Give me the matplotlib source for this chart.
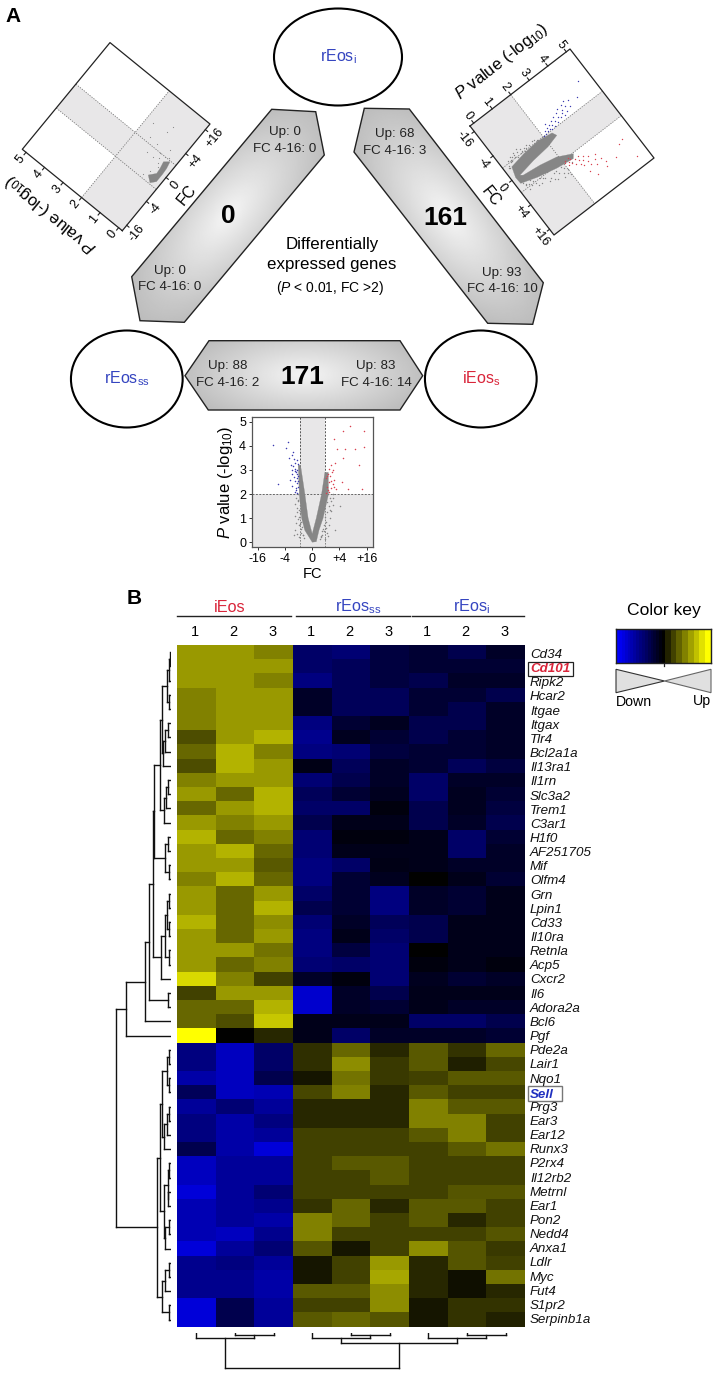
import numpy as np
import matplotlib
matplotlib.use("Agg")
import matplotlib.pyplot as plt
from matplotlib.colors import LinearSegmentedColormap
from matplotlib.patches import Ellipse, Polygon, Rectangle
from matplotlib.transforms import Affine2D

plt.rcParams['font.family'] = ['Liberation Sans', 'DejaVu Sans']
plt.rcParams['mathtext.fontset'] = 'custom'
plt.rcParams['mathtext.rm'] = 'Liberation Sans'
plt.rcParams['mathtext.it'] = 'Liberation Sans:italic'
plt.rcParams['mathtext.bf'] = 'Liberation Sans:bold'
plt.rcParams['mathtext.default'] = 'regular'

W, H = 721, 1376
BLUE_TXT = '#3545c0'
RED_TXT = '#d9253a'
GREY_BG = '#e8e7e8'
GREY_DOT = '#868686'

# heatmap
genes = ['Cd34', 'Cd101', 'Ripk2', 'Hcar2', 'Itgae', 'Itgax', 'Tlr4', 'Bcl2a1a', 'Il13ra1', 'Il1rn',
         'Slc3a2', 'Trem1', 'C3ar1', 'H1f0', 'AF251705', 'Mif', 'Olfm4', 'Grn', 'Lpin1', 'Cd33',
         'Il10ra', 'Retnla', 'Acp5', 'Cxcr2', 'Il6', 'Adora2a', 'Bcl6', 'Pgf', 'Pde2a', 'Lair1',
         'Nqo1', 'Sell', 'Prg3', 'Ear3', 'Ear12', 'Runx3', 'P2rx4', 'Il12rb2', 'Metrnl', 'Ear1',
         'Pon2', 'Nedd4', 'Anxa1', 'Ldlr', 'Myc', 'Fut4', 'S1pr2', 'Serpinb1a']
heat_ieos = [[.6, .6, .5], [.6, .6, .6], [.6, .6, .5], [.5, .6, .6], [.5, .6, .6], [.5, .6, .6],
             [.3, .6, .7], [.4, .7, .5], [.3, .7, .6], [.5, .6, .6], [.6, .4, .7], [.4, .6, .7],
             [.6, .5, .6], [.7, .4, .5], [.6, .7, .4], [.6, .6, .35], [.5, .7, .4], [.6, .4, .6],
             [.6, .4, .7], [.7, .4, .55], [.6, .4, .6], [.6, .6, .45], [.6, .4, .5], [.85, .5, .25],
             [.25, .6, .6], [.4, .4, .7], [.4, .3, .78], [1, 0, .15],
             [-.5, -.75, -.4], [-.5, -.75, -.4], [-.65, -.75, -.3], [-.35, -.75, -.7], [-.6, -.45, -.6],
             [-.5, -.65, -.5], [-.5, -.65, -.6], [-.3, -.65, -.85], [-.75, -.6, -.6], [-.75, -.6, -.6],
             [-.85, -.6, -.45], [-.7, -.6, -.55], [-.7, -.6, -.65], [-.7, -.75, -.55], [-.85, -.6, -.45],
             [-.55, -.5, -.6], [-.55, -.55, -.65], [-.55, -.55, -.65], [-.85, -.3, -.6], [-.85, -.3, -.6]]
heat_ss = [[-.4, -.45, -.25], [-.4, -.35, -.25], [-.5, -.35, -.25], [-.15, -.35, -.35], [-.15, -.35, -.35],
           [-.5, -.2, -.12], [-.55, -.12, -.2], [-.5, -.45, -.25], [-.08, -.35, -.15], [-.45, -.3, -.15],
           [-.35, -.2, -.12], [-.4, -.4, -.05], [-.3, -.1, -.1], [-.45, -.05, -.05], [-.45, -.1, -.1],
           [-.5, -.4, -.08], [-.5, -.2, -.12], [-.4, -.2, -.5], [-.3, -.2, -.5], [-.45, -.15, -.35],
           [-.5, -.1, -.4], [-.5, -.25, -.45], [-.45, -.4, -.45], [-.15, -.05, -.45], [-.8, -.15, -.3],
           [-.8, -.15, -.2], [-.1, -.1, -.1], [-.1, -.4, -.15],
           [.18, .4, .15], [.18, .55, .22], [.08, .45, .22], [.28, .5, .15], [.15, .15, .15], [.15, .15, .15],
           [.25, .25, .25], [.25, .25, .25], [.25, .35, .35], [.25, .25, .35], [.25, .25, .25], [.2, .4, .15],
           [.5, .4, .25], [.5, .25, .25], [.33, .08, .25], [.08, .25, .6], [.08, .25, .65], [.35, .35, .55],
           [.25, .25, .55], [.35, .4, .33]]
heat_i = [[-.2, -.3, -.15], [-.2, -.2, -.2], [-.3, -.15, -.15], [-.2, -.2, -.3], [-.2, -.3, -.15],
          [-.3, -.3, -.15], [-.3, -.2, -.15], [-.2, -.2, -.15], [-.2, -.35, -.25], [-.4, -.15, -.15],
          [-.4, -.12, -.2], [-.3, -.12, -.25], [-.3, -.15, -.3], [-.1, -.4, -.2], [-.1, -.4, -.15],
          [-.1, -.15, -.15], [0, -.1, -.2], [-.15, -.2, -.1], [-.15, -.2, -.1], [-.3, -.1, -.1],
          [-.3, -.1, -.1], [0, -.1, -.1], [-.05, -.1, -.05], [-.12, -.2, -.15], [-.1, -.1, -.1],
          [-.1, -.15, -.15], [-.4, -.4, -.3], [-.15, -.15, -.2],
          [.35, .2, .4], [.35, .12, .28], [.25, .35, .35], [.35, .25, .25], [.5, .35, .35], [.5, .5, .25],
          [.35, .5, .25], [.25, .35, .45], [.25, .25, .25], [.25, .25, .25], [.25, .33, .33], [.35, .35, .25],
          [.35, .15, .25], [.25, .25, .33], [.55, .33, .22], [.15, .33, .25], [.15, .06, .45], [.15, .06, .15],
          [.08, .2, .2], [.08, .2, .13]]
column_numbers = ['1', '2', '3', '1', '2', '3', '1', '2', '3']
key_levels = [-1, -.94, -.88, -.81, -.75, -.69, -.63, -.56, -.5, -.44, -.38, -.31, -.25, -.19, -.13, -.06, 0,
              .13, .13, .25, .25, .38, .38, .5, .5, .63, .63, .75, .75, .88, .88, 1, 1]

# dendrograms: (height, child, child), a leaf is a row or column number
n01_4 = (3, (1, (.5, 0, 1), 2), (1, 3, 4))
n5_8 = (7, (5, (2, 5, 6), 7), 8)
n9_12 = (6, (4, (2, 9, 10), 11), 12)
n13_16 = (5, (2, 13, 14), (1.5, 15, 16))
n17_23 = (9.3, (5, (3, (1, 17, 18), (1, 19, 20)), (1, 21, 22)), 23)
top_tree = (44, (25, (20.7, (16.7, (15.7, (10, (8, n01_4, n5_8), n9_12), n13_16), n17_23), (1.7, 24, 25)), 26), 27)
n28_35 = (8.3, (3, (1, 28, 29), (1.5, 30, 31)), (6, (3, (1, 32, 33), 34), 35))
n36_42 = (6, (2.5, (1, 36, 37), (2, 38, 39)), (5, (1.5, 40, 41), 42))
n43_47 = (8, (5, (1.5, 43, 44), 45), (1.5, 46, 47))
bottom_tree = (13.3, (10, n28_35, n36_42), n43_47)
row_tree = (54, top_tree, bottom_tree)
col_tree = (35, (5, 0, (2.5, 1, 2)), (10.5, (5, 3, (2.5, 4, 5)), (5, 6, (2.5, 7, 8))))

# volcano plots, x is log2 FC, y is -log10 P
fc_ticks = [-4, -2, 0, 2, 4]
fc_labels = ['-16', '-4', '0', '+4', '+16']
p_ticks = [0, 1, 2, 3, 4, 5]

left_cloud_fc = [-.60, -.18, .21, .68, .95, .46, .01, -.6, -.92]
left_cloud_p = [.44, .21, .235, .30, .09, .02, 0, 0, .18]
left_grey_fc = [1.39, 2.84, 2.3, 2.19, 1.32, .5, .96, .52, .99, 1.53, -.73, .22, .7, 1.1, -.3, .4]
left_grey_p = [1.4, .92, .995, 1.65, 1.0, 1.11, .63, .76, .38, .4, .64, .33, .55, .2, .5, .45]

right_cloud_fc = [0, -.7, -.9, -1.0, -.85, -.54, -.3, -.17, .05, .18, .33, .57, 1.06, 1.31, 1.15, .85, .5]
right_cloud_p = [0, .15, .9, 1.7, 2.4, 2.5, 1.9, 1.05, .21, .32, 1.15, 1.93, 2.58, 2.45, 1.65, .75, .02]
right_grey_fc = [-1.0, -1.1, -1.2, -.95, -1.05, -1.1, -1.15, -1.2, -1.05, -.85, -1.25, -1.3, -1.12, -.98,
                 -1.35, -1.22, -1.18, -1.08, -.9, -.75, -1.28, -1.42, -1.15, -1.3, -1.2, -1.1, -.95, -.7,
                 .7, .9, 1.0, 1.2, 1.3, 1.5, 1.6, 1.1, .85, 1.4, .75, .95, 1.25, 1.45, 1.05, 1.7,
                 1.3, 1.55, 1.75, 1.85, 1.05, 1.35, 1.15, .6, .8, 1.65, 1.25, 1.9, 2.0, 1.45]
right_grey_p = [.3, .5, .4, .6, .85, 1.1, 1.3, 1.5, 1.7, .1, .7, .35, .9, 1.0,
                .55, 1.05, 1.6, 1.95, 1.85, .05, .9, .75, .2, 1.2, .55, .3, .25, .08,
                .4, .5, .8, 1.0, 1.4, 1.6, 2.0, .9, .3, 1.2, .2, 1.2, 1.8, 1.9, .35, 1.75,
                .75, 1.05, 1.4, 1.9, .55, .6, .2, .12, .15, 1.3, 1.55, 1.7, 1.95, 2.3]
right_blue_fc = [-1.05, -1.1, -1.2, -1.15, -1.3, -1.25, -1.4, -1.1, -1.35, -1.5, -1.2, -1.45, -1.6, -1.3, -1.7,
                 -1.5, -1.25, -1.65, -1.85, -1.4, -1.75, -1.95, -1.55, -1.9, -2.1, -1.72, -2.45, -1.05, -1.6, -1.0]
right_blue_p = [2.15, 2.3, 2.2, 2.45, 2.35, 2.6, 2.5, 2.7, 2.8, 2.7, 2.9, 3.0, 2.85, 3.1, 3.05,
                3.25, 3.3, 3.35, 3.2, 3.5, 3.55, 3.45, 3.7, 3.8, 3.6, 4.17, 4.64, 2.5, 2.4, 2.05]
right_red_fc = [1.1, 1.3, 1.2, 1.5, 1.4, 1.7, 1.6, 1.35, 1.9, 1.8, 1.55, 2.1, 2.0, 1.75, 2.3,
                2.2, 1.2, 1.05, 2.5, 2.6, 3.08, 2.7, 3.0, 2.2, 2.35, 3.66, 2.9, 1.9, 1.45, 2.4]
right_red_p = [2.1, 2.2, 2.35, 2.3, 2.5, 2.4, 2.6, 2.7, 2.55, 2.75, 2.85, 2.65, 2.9, 3.0, 2.9,
               3.15, 2.05, 2.3, 3.1, 2.7, 2.9, 3.5, 3.4, 4.6, 4.4, 4.68, 3.95, 3.3, 2.15, 3.4]

bottom_cloud_fc = [0, -.55, -.78, -.95, -1.03, -.86, -.54, -.3, 0, .3, .69, .93, 1.18, 1.2, .8, .5, .3]
bottom_cloud_p = [0, .5, 1.0, 2.0, 3.2, 3.2, 2.0, 1.0, .35, 1.0, 2.0, 2.9, 2.9, 2.0, 1.0, .5, .02]
bottom_grey_fc = [-1.3, -1.2, -1.1, -1.25, -1.15, -1.05, -1.35, -.95, -1.2, -1.3, -1.05,
                  1.1, 1.25, 1.3, 1.4, 1.5, 1.5, 1.67, 2.03, 1.15, 1.35, .95, 1.55,
                  -.85, -.9, -1.0, -1.08, -.95, -.8, -.7, -.75, -.98, -1.12, -.88, -.65, -.6, -.92, -1.02, -.82,
                  .85, .9, 1.0, 1.05, .95, .75, .7, .68, 1.2, 1.12, 1.28, .62, .55, 1.3, 1.08, .8]
bottom_grey_p = [.5, .8, .35, 1.1, 1.4, 1.7, .3, .2, 1.85, 1.6, 2.0,
                 .4, .7, 1.0, 1.3, 1.55, 1.85, .5, 1.52, .25, 1.7, .15, 2.0,
                 .55, .75, .7, .95, 1.05, .4, .3, .62, 1.35, 1.25, 1.2, .28, .18, 1.55, 1.75, .85,
                 .45, .7, .85, .6, 1.05, .3, .45, .2, 1.5, 1.25, 1.85, .25, .15, 1.35, 1.65, .55]
bottom_blue_fc = [-2.87, -1.76, -1.94, -2.5, -1.52, -1.4, -1.1, -1.2, -1.3, -1.05, -1.45, -1.15, -1.25, -1.6,
                  -1.35, -1.05, -1.5, -1.2, -1.1, -1.3, -1.4, -1.05, -1.25, -1.55, -1.15, -1.35, -1.7,
                  -1.1, -1.3, -1.2, -1.45, -1.05, -1.15]
bottom_blue_p = [4.04, 4.18, 3.9, 2.41, 3.63, 3.74, 2.05, 2.15, 2.1, 2.3, 2.35, 2.45, 2.55, 2.6,
                 2.7, 2.75, 2.85, 2.9, 3.0, 3.05, 3.15, 3.25, 3.3, 3.2, 3.4, 3.45, 3.5,
                 2.65, 2.95, 2.25, 3.0, 2.55, 2.85]
bottom_red_fc = [2.77, 2.28, 3.82, 1.59, 1.79, 2.4, 3.14, 3.82, 3.43, 2.28, 2.2, 3.63, 2.65,
                 1.05, 1.15, 1.25, 1.1, 1.35, 1.5, 1.2, 1.4, 1.05, 1.6, 1.3, 1.45, 1.15, 1.55, 1.7,
                 1.2, 1.35, 1.6, 1.75, 1.1]
bottom_red_p = [4.81, 4.6, 4.6, 4.28, 3.86, 3.86, 3.86, 3.95, 3.19, 3.49, 2.48, 2.2, 2.2,
                2.05, 2.15, 2.1, 2.3, 2.25, 2.4, 2.5, 2.55, 2.65, 2.3, 2.75, 2.9, 2.85, 3.0, 3.3,
                3.05, 3.2, 2.6, 2.2, 2.75]

fc_lim = (-4.45, 4.47)
p_lim = (-.2, 5.2)

fig = plt.figure(figsize=(W / 100, H / 100), dpi=100)


def px_axes(x0, y0, x1, y1, **kw):
    return fig.add_axes([x0 / W, 1 - y1 / H, (x1 - x0) / W, (y1 - y0) / H], **kw)


main = px_axes(0, 0, W, H)
main.set_xlim(0, W)
main.set_ylim(H, 0)
main.axis('off')


def gradient_shape(points, center, axis_angle, r_long, r_short):
    patch = Polygon(points, closed=True, facecolor='none', edgecolor='#222222', lw=1.0, zorder=3)
    main.add_patch(patch)
    xs = np.array([p[0] for p in points])
    ys = np.array([p[1] for p in points])
    x0, x1, y0, y1 = xs.min(), xs.max(), ys.min(), ys.max()
    gx, gy = np.meshgrid(np.linspace(x0, x1, 200), np.linspace(y0, y1, 200))
    a = np.radians(axis_angle)
    u = (gx - center[0]) * np.cos(a) + (gy - center[1]) * np.sin(a)
    v = -(gx - center[0]) * np.sin(a) + (gy - center[1]) * np.cos(a)
    d = np.clip(np.hypot(u / r_long, v / r_short), 0, 1)
    im = main.imshow(.96 - .22 * d, extent=(x0, x1, y1, y0), origin='upper', cmap='gray',
                     vmin=0, vmax=1, aspect='auto', zorder=2)
    im.set_clip_path(patch)


def label_lines(x, y, up, fc):
    main.text(x, y - 9, up, ha='center', va='center', fontsize=9.6, color='#222222', zorder=4)
    main.text(x, y + 7.5, fc, ha='center', va='center', fontsize=9.6, color='#222222', zorder=4)


def rotated_volcano(origin, fc_end, p_end, rotation, cloud, grey, blue=None, red=None, dot=1.0):
    # axis corners in pixels, data goes through an affine transform
    ox, oy = origin
    fx = (fc_end[0] - ox) / (fc_lim[1] - fc_lim[0])
    fy = (fc_end[1] - oy) / (fc_lim[1] - fc_lim[0])
    px = (p_end[0] - ox) / (p_lim[1] - p_lim[0])
    py = (p_end[1] - oy) / (p_lim[1] - p_lim[0])
    e = ox - fc_lim[0] * fx - p_lim[0] * px
    f = oy - fc_lim[0] * fy - p_lim[0] * py
    tr = Affine2D.from_values(fx, fy, px, py, e, f) + main.transData

    main.add_patch(Rectangle((fc_lim[0], p_lim[0]), fc_lim[1] - fc_lim[0], 2 - p_lim[0], transform=tr,
                             facecolor=GREY_BG, edgecolor='none', zorder=1))
    main.add_patch(Rectangle((-1, 2), 2, p_lim[1] - 2, transform=tr,
                             facecolor=GREY_BG, edgecolor='none', zorder=1))
    main.plot(fc_lim, [2, 2], transform=tr, color='#777777', lw=.6, ls=(0, (1.5, 1.5)), zorder=2)
    for c in [-1, 1]:
        main.plot([c, c], p_lim, transform=tr, color='#777777', lw=.6, ls=(0, (1.5, 1.5)), zorder=2)

    main.add_patch(Polygon(list(zip(cloud[0], cloud[1])), closed=True, transform=tr,
                           facecolor=GREY_DOT, edgecolor=GREY_DOT, lw=.2, zorder=3))
    main.scatter(grey[0], grey[1], s=dot, color=GREY_DOT, linewidths=0, transform=tr, zorder=3)
    if blue is not None:
        main.scatter(blue[0], blue[1], s=dot, color='#3a3ab0', linewidths=0, transform=tr, zorder=3)
        main.scatter(red[0], red[1], s=dot, color='#d8404f', linewidths=0, transform=tr, zorder=3)

    frame_x = [fc_lim[0], fc_lim[1], fc_lim[1], fc_lim[0], fc_lim[0]]
    frame_y = [p_lim[0], p_lim[0], p_lim[1], p_lim[1], p_lim[0]]
    main.plot(frame_x, frame_y, transform=tr, color='#222222', lw=.9, zorder=4)

    for t in p_ticks:
        main.plot([fc_lim[0], fc_lim[0] - .2], [t, t], transform=tr, color='#222222', lw=.8, zorder=4)
        main.text(-5.05, t, str(t), transform=tr, rotation=rotation, rotation_mode='anchor',
                  ha='center', va='center', fontsize=9)
    for t, lab in zip(fc_ticks, fc_labels):
        main.plot([t, t], [p_lim[0], p_lim[0] - .12], transform=tr, color='#222222', lw=.8, zorder=4)
        main.text(t, -.72, lab, transform=tr, rotation=rotation, rotation_mode='anchor',
                  ha='center', va='center', fontsize=9)
    main.text(0, -1.35, 'FC', transform=tr, rotation=rotation, rotation_mode='anchor',
              ha='center', va='center', fontsize=11.5)
    main.text(-6.5, 2.55, r'$\mathit{P}$ value (-log$_{10}$)', transform=tr, rotation=rotation + 90,
              rotation_mode='anchor', ha='center', va='center', fontsize=12)


def tree_position(node):
    if not isinstance(node, tuple):
        return node + .5
    return (tree_position(node[1]) + tree_position(node[2])) / 2


def draw_tree(ax, node, horizontal=False):
    # brackets are drawn from the merge height to the child heights
    if not isinstance(node, tuple):
        return
    h = node[0]
    for child in node[1:]:
        ch = child[0] if isinstance(child, tuple) else 0
        pos = tree_position(child)
        if horizontal:
            ax.plot([pos, pos], [h, ch], color='#111111', lw=1.0, solid_capstyle='projecting')
        else:
            ax.plot([h, ch], [pos, pos], color='#111111', lw=1.0, solid_capstyle='projecting')
        draw_tree(ax, child, horizontal)
    a, b = tree_position(node[1]), tree_position(node[2])
    if horizontal:
        ax.plot([a, b], [h, h], color='#111111', lw=1.0, solid_capstyle='projecting')
    else:
        ax.plot([h, h], [a, b], color='#111111', lw=1.0, solid_capstyle='projecting')


# panel A
main.text(5, 16, 'A', fontsize=15, fontweight='bold', ha='left', va='center')
main.text(127, 599, 'B', fontsize=15, fontweight='bold', ha='left', va='center')

for cx, cy, w, h, name, col in [(338, 57, 128, 97, r'rEos$_{i}$', BLUE_TXT),
                                (126.8, 379, 111.7, 97, r'rEos$_{ss}$', BLUE_TXT),
                                (480.8, 379, 111.7, 97, r'iEos$_{s}$', RED_TXT)]:
    main.add_patch(Ellipse((cx, cy), w, h, facecolor='white', edgecolor='black', lw=1.5, zorder=2))
    main.text(cx, cy, name, color=col, ha='center', va='center', fontsize=11.5, zorder=4)

gradient_shape([(271.7, 109.3), (315.7, 111.7), (324.3, 155), (184.3, 322.3), (140, 320.7), (131.7, 276.7)],
               (228, 215), -50, 135, 60)
gradient_shape([(364.3, 108.3), (409.3, 109), (543.3, 282.7), (532.7, 324.3), (487.7, 323.3), (354, 152)],
               (448, 216), 52, 135, 60)
gradient_shape([(209, 340.7), (400, 340.7), (422.7, 375.7), (400, 410), (208.3, 410), (185, 375.7)],
               (304, 375), 0, 125, 50)

label_lines(285, 141, 'Up: 0', 'FC 4-16: 0')
label_lines(170, 280, 'Up: 0', 'FC 4-16: 0')
label_lines(395, 143, 'Up: 68', 'FC 4-16: 3')
label_lines(502, 282, 'Up: 93', 'FC 4-16: 10')
label_lines(228, 375, 'Up: 88', 'FC 4-16: 2')
label_lines(376, 375, 'Up: 83', 'FC 4-16: 14')

main.text(228.5, 216, '0', fontsize=19, fontweight='bold', ha='center', va='center', zorder=4)
main.text(445, 218, '161', fontsize=19, fontweight='bold', ha='center', va='center', zorder=4)
main.text(302, 377, '171', fontsize=19, fontweight='bold', ha='center', va='center', zorder=4)

main.text(332, 244, 'Differentially', fontsize=12.2, ha='center', va='center')
main.text(332, 264, 'expressed genes', fontsize=12.2, ha='center', va='center')
main.text(330, 288, r'($\mathit{P}$ < 0.01, FC >2)', fontsize=10, ha='center', va='center')

rotated_volcano((122.3, 230.7), (210, 124), (22.3, 149.3), 51,
                (left_cloud_fc, left_cloud_p), (left_grey_fc, left_grey_p), dot=.7)
rotated_volcano((470, 126), (554, 235), (570, 49), -52,
                (right_cloud_fc, right_cloud_p), (right_grey_fc, right_grey_p),
                (right_blue_fc, right_blue_p), (right_red_fc, right_red_p))

# bottom volcano on a normal axes
vol = px_axes(251.7, 417, 373, 547)
vol.set_xlim(*fc_lim)
vol.set_ylim(*p_lim)
vol.axhspan(p_lim[0], 2, color=GREY_BG, lw=0, zorder=0)
vol.axvspan(-.92, .92, color=GREY_BG, lw=0, zorder=0)
vol.axhline(2, color='#666666', lw=.7, ls=(0, (2, 1.5)), zorder=1)
vol.plot([-.92, -.92], [2, p_lim[1]], color='#555555', lw=.7, ls=(0, (2, 1.5)), zorder=1)
vol.plot([.92, .92], [2, p_lim[1]], color='#555555', lw=.7, ls=(0, (2, 1.5)), zorder=1)
vol.plot([-.92, -.92], [p_lim[0], 2], color='#777777', lw=.6, ls=(0, (2, 1.5)), zorder=1)
vol.plot([.92, .92], [p_lim[0], 2], color='#777777', lw=.6, ls=(0, (2, 1.5)), zorder=1)
vol.fill(bottom_cloud_fc, bottom_cloud_p, color=GREY_DOT, lw=.2, zorder=2)
vol.scatter(bottom_grey_fc, bottom_grey_p, s=1.2, color=GREY_DOT, linewidths=0, zorder=2)
vol.scatter(bottom_blue_fc, bottom_blue_p, s=1.2, color='#3a3ab0', linewidths=0, zorder=3)
vol.scatter(bottom_red_fc, bottom_red_p, s=1.2, color='#d8404f', linewidths=0, zorder=3)
vol.set_xticks(fc_ticks)
vol.set_xticklabels(fc_labels)
vol.set_yticks(p_ticks)
vol.tick_params(labelsize=9, length=2.5, width=.7, pad=1.5, color='#333333')
for s in vol.spines.values():
    s.set_color('#555555')
    s.set_linewidth(.9)
vol.set_xlabel('FC', fontsize=10.5, labelpad=2)
vol.set_ylabel(r'$\mathit{P}$ value (-log$_{10}$)', fontsize=12, labelpad=3)

# panel B, heatmap
cmap = LinearSegmentedColormap.from_list('bky', ['#0000ff', '#000000', '#ffff00'])
heat_values = np.hstack([np.array(heat_ieos), np.array(heat_ss), np.array(heat_i)])
heat = px_axes(177, 645, 525, 1326.7)
heat.pcolormesh(heat_values, cmap=cmap, vmin=-1, vmax=1, edgecolors='none', antialiased=False)
heat.set_xlim(0, 9)
heat.set_ylim(48, 0)
heat.axis('off')

for x0, x1, cx, name, col in [(177, 291, 230, 'iEos', RED_TXT),
                              (296, 410, 358, r'rEos$_{ss}$', BLUE_TXT),
                              (412.3, 524, 472, r'rEos$_{i}$', BLUE_TXT)]:
    main.plot([x0, x1], [616, 616], color='#222222', lw=1.0)
    main.text(cx, 607, name, color=col, fontsize=11.7, ha='center', va='center')
for i, lab in enumerate(column_numbers):
    main.text(177 + 38.67 * (i + .5) - 1.5, 632.5, lab, fontsize=10.5, ha='center', va='center')

for i, g in enumerate(genes):
    y = 655 + 14.15 * i
    if g == 'Cd101':
        main.text(530, y, g, fontsize=9.6, fontstyle='italic', fontweight='bold', color=RED_TXT,
                  ha='left', va='center', zorder=4)
    elif g == 'Sell':
        main.text(530, y + 1, g, fontsize=9.6, fontstyle='italic', fontweight='bold', color='#2030c0',
                  ha='left', va='center', zorder=4)
    else:
        main.text(530, y, g, fontsize=9.6, fontstyle='italic', color='#111111', ha='left', va='center')
main.add_patch(Rectangle((527.7, 662.3), 45.6, 13.4, facecolor='none', edgecolor='#222222', lw=.9))
main.add_patch(Rectangle((528.3, 1085.7), 34, 15.3, facecolor='none', edgecolor='#777777', lw=1.0))

# dendrograms
row_dendro = px_axes(115, 645, 171, 1326.7)
row_dendro.set_xlim(55, -1)
row_dendro.set_ylim(48, 0)
row_dendro.axis('off')
draw_tree(row_dendro, row_tree)

col_dendro = px_axes(177, 1332.5, 525, 1370)
col_dendro.set_xlim(0, 9)
col_dendro.set_ylim(37.5, 0)
col_dendro.axis('off')
draw_tree(col_dendro, col_tree, horizontal=True)

# colour key
key = px_axes(616, 629, 711, 662.7)
key.pcolormesh(np.array([key_levels]), cmap=cmap, vmin=-1, vmax=1, edgecolors='none', antialiased=False)
key.set_xticks([])
key.set_yticks([])
for s in key.spines.values():
    s.set_color('#222222')
    s.set_linewidth(1.0)
main.plot([664, 664], [662.7, 666], color='#222222', lw=.9)
main.text(664, 611, 'Color key', fontsize=12.6, ha='center', va='center')
main.add_patch(Polygon([(616, 669.3), (664.5, 681), (616, 692.7)], closed=True, facecolor='#e0e0e0',
                       edgecolor='#333333', lw=.8))
main.add_patch(Polygon([(711, 669.3), (664.5, 681), (711, 692.7)], closed=True, facecolor='#e0e0e0',
                       edgecolor='#666666', lw=.8))
main.text(615.5, 701.5, 'Down', fontsize=10.2, ha='left', va='center')
main.text(711, 701.5, 'Up', fontsize=10.2, ha='right', va='center')

main.set_xlim(0, W)
main.set_ylim(H, 0)
fig.savefig('out.png', dpi=100)
